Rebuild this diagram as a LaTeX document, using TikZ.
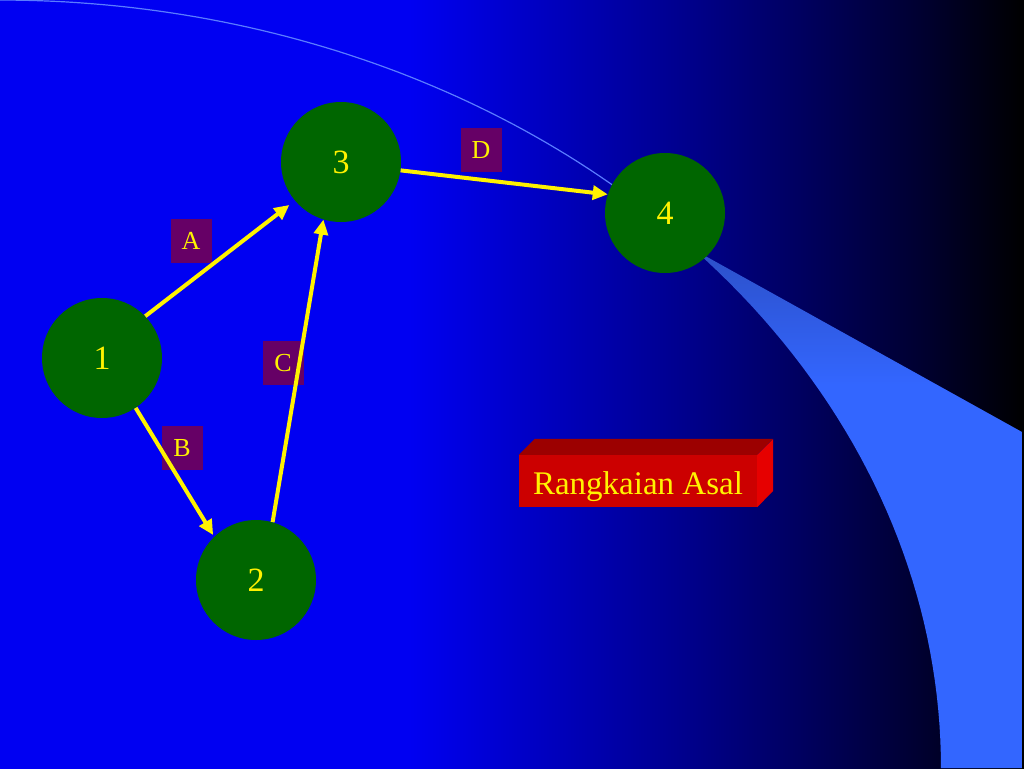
\documentclass[tikz,border=0pt]{standalone}
\usepackage{fontspec}
\setmainfont{Liberation Serif}
\usetikzlibrary{arrows.meta,calc}
\definecolor{slideblue}{HTML}{0000F2}
\definecolor{slidenavy}{HTML}{000088}
\definecolor{slidedark}{HTML}{000030}
\definecolor{wedge}{HTML}{3366FF}
\definecolor{wedgedim}{HTML}{2C50C8}
\definecolor{arcline}{HTML}{5A7CFF}
\definecolor{vertexgreen}{HTML}{006600}
\definecolor{tagpurple}{HTML}{660066}
\definecolor{boxred}{HTML}{CC0000}
\definecolor{boxtop}{HTML}{9C0000}
\definecolor{boxside}{HTML}{E60000}
\pgfdeclarehorizontalshading{slidebg}{100bp}{color(0bp)=(slideblue);
  color(45bp)=(slideblue); color(59bp)=(slidenavy); color(70bp)=(slidedark);
  color(75bp)=(black); color(100bp)=(black)}
\pgfdeclareverticalshading{wedgefade}{100bp}{color(0bp)=(wedge);
  color(62bp)=(wedge); color(75bp)=(wedgedim); color(100bp)=(wedgedim)}
\tikzset{>=Triangle,
  vertex/.style={circle,fill=vertexgreen,minimum size=120pt,inner sep=0pt,
    text=yellow,font=\fontsize{34}{36}\selectfont},
  tag/.style={fill=tagpurple,minimum width=41pt,minimum height=44pt,inner sep=0pt,
    text=yellow,font=\fontsize{26}{28}\selectfont},
  edge/.style={-{Triangle[length=15pt,width=14pt]},draw=yellow,line width=4pt},
  titlebox/.style={fill=boxred,minimum width=238pt,text height=39pt,text depth=13pt,
    inner sep=0pt,text=yellow,font=\fontsize{33}{36}\selectfont}}

\begin{document}
\begin{tikzpicture}[x=1pt,y=-1pt]
\useasboundingbox (0,0) rectangle (1024,768);
\shade[shading=slidebg] (0,0) rectangle (1024,768);
% quarter ellipse, centre (0,768), radii 941 and 768
\shade[shading=wedgefade] plot[domain=42.4:0,samples=40,variable=\t]
  ({941*cos(\t)},{768-768*sin(\t)}) -- (1022,768) -- (1022,432) -- cycle;
\draw[arcline,line width=1.2pt] plot[domain=90:42.4,samples=60,variable=\t]
  ({941*cos(\t)},{768-768*sin(\t)});
\node[tag] (tA) at (191,241) {A};
\node[tag] (tB) at (182,448) {B};
\node[tag] (tC) at (283,363) {C};
\node[tag] (tD) at (481,150) {D};
\node[vertex] (n1) at (102,358) {1};
\node[vertex] (n2) at (256,580) {2};
\node[vertex] (n3) at (341,162) {3};
\node[vertex] (n4) at (665,213) {4};
\draw[edge,shorten >=7pt] (n1.44) -- (n3.220);
\draw[edge,shorten >=2pt] (n1.-56) -- (n2.134);
\draw[edge] (n2.74) -- (n3.-107);
\draw[edge] (n3.-8) -- (n4.162);
\node[titlebox] (title) at (638,481) {Rangkaian Asal};
\fill[boxtop] (title.north west) -- ++(16,-16) -- ++(238,0) -- (title.north east) -- cycle;
\fill[boxside] (title.north east) -- ++(16,-16) -- ++(0,52) -- (title.south east) -- cycle;
\end{tikzpicture}
\end{document}
